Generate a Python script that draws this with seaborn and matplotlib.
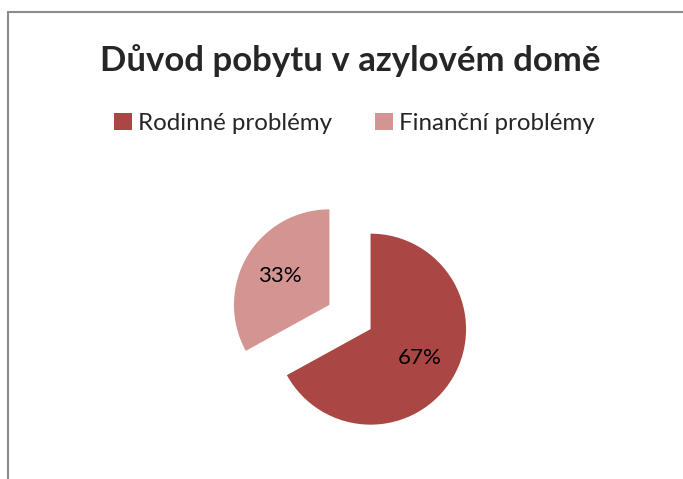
import matplotlib
matplotlib.use('Agg')
import matplotlib.pyplot as plt
import seaborn as sns
from matplotlib.patches import Patch
from matplotlib.lines import Line2D

# data
categories = ['Rodinné problémy', 'Finanční problémy']
shares = [67, 33]
colors = ['#AA4744', '#D49492']
title = 'Důvod pobytu v azylovém domě'

sns.set_theme(style='white')
plt.rcParams['font.family'] = ['Lato', 'DejaVu Sans']

W, H = 683, 479
fig = plt.figure(figsize=(W / 100, H / 100), dpi=100)
fig.patch.set_facecolor('white')

# pie axes, centre ~ (350, 317) px, radius ~95 px
R = 95.5
cx, cy = 350, H - 317
ax = fig.add_axes([(cx - 1.5 * R) / W, (cy - 1.5 * R) / H, 3 * R / W, 3 * R / H])
wedges, texts, autotexts = ax.pie(shares, colors=colors, startangle=90, counterclock=False,
                                  explode=[0.25, 0.25], autopct='%1.0f%%', pctdistance=0.6,
                                  textprops={'fontsize': 16, 'color': 'black'},
                                  wedgeprops={'linewidth': 0})
ax.set_xlim(-1.5, 1.5)
ax.set_ylim(-1.5, 1.5)
ax.set_aspect('equal')
ax.axis('off')

# title
fig.text(350 / W, 1 - 71 / H, title, ha='center', va='baseline',
         fontsize=25, fontweight='bold')

# legend
handles = [Patch(facecolor=c, edgecolor='none') for c in colors]
fig.legend(handles, categories, loc='center', bbox_to_anchor=(354.5 / W, 1 - 123.5 / H),
           ncol=2, frameon=False, fontsize=17.4, handlelength=0.72, handleheight=0.7,
           handletextpad=0.25, columnspacing=1.8, borderpad=0, borderaxespad=0)

# chart frame (left and top edges visible)
fig.add_artist(Line2D([8 / W, 8 / W], [0, 1 - 12 / H], color='#8c8c8c', lw=1.5))
fig.add_artist(Line2D([8 / W, 1], [1 - 12 / H, 1 - 12 / H], color='#8c8c8c', lw=1.5))

fig.savefig('out.png', dpi=100)
